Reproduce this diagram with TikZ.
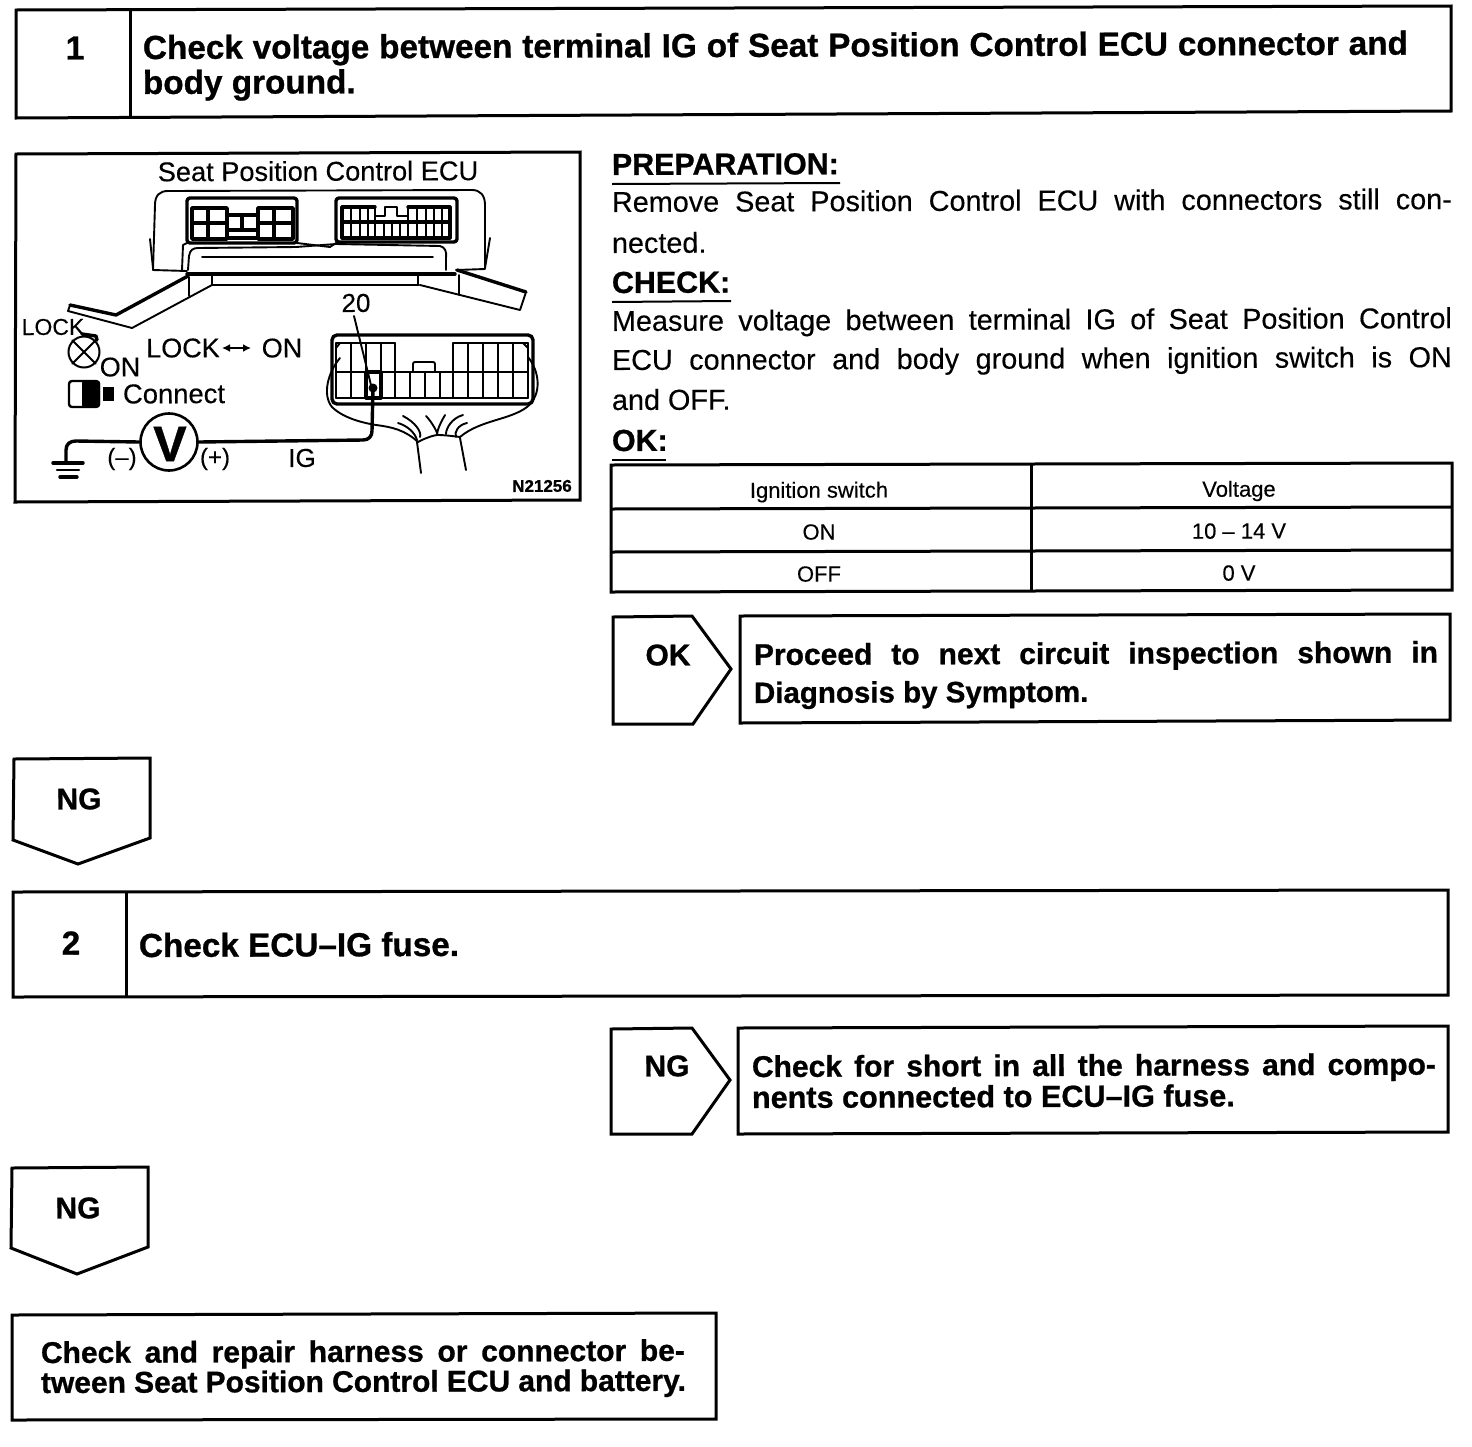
\documentclass[tikz,border=0pt]{standalone}
\usepackage{fontspec}
\usetikzlibrary{arrows.meta}
\setmainfont{Liberation Sans}[FakeBold=0.25,BoldFeatures={FakeBold=0.8}]
\newcommand{\szA}{\fontsize{33.3}{36}\selectfont\bfseries}
\newcommand{\szC}{\fontsize{30}{34}\selectfont\bfseries}
\newcommand{\szD}{\fontsize{22}{26}\selectfont}
\newcommand{\szE}{\fontsize{28.8}{30}\selectfont}
\newcommand{\szH}{\fontsize{30.4}{30}\selectfont\bfseries}
\newcommand{\jl}[2]{\hbox to #1pt{#2}}
\tikzset{
  bx/.style={draw=black,line width=3pt,line join=miter,fill=none},
  lbl/.style={inner sep=0pt,outer sep=0pt,text=black,rotate=0.2,anchor=base west},
  ctr/.style={inner sep=0pt,outer sep=0pt,text=black,rotate=0.2,anchor=center},
  fine/.style={draw=black,line width=1.9pt,line join=round,line cap=round},
  heavy/.style={draw=black,line width=3.4pt,line join=round,line cap=round},
  ulin/.style={draw=black,line width=2pt}
}
\begin{document}
\begin{tikzpicture}[x=1pt,y=-1pt]
\useasboundingbox (0,0) rectangle (1472,1446);
\fill[white] (0,0) rectangle (1472,1446);
% step 1 box
\draw[bx] (16,10)--(1451,6)--(1451,111)--(16,118)--cycle;
\draw[bx] (130,9)--(130,118);
\node[ctr,font=\szA] (n1) at (75,48) {1};
\node[lbl,font=\szA] (t1a) at (143,59) {\jl{1265}{Check voltage between terminal IG of Seat Position Control ECU connector and}};
\node[lbl,font=\szA] (t1b) at (143,94) {body ground.};
% picture box
\draw[bx] (16,154)--(580,152)--(580,500)--(15,502)--cycle;
\node[ctr,font=\fontsize{27.2}{30}\selectfont] (ptitle) at (318,171) {Seat Position Control ECU};
% ECU housing
\draw[fine] (153,270)--(155,205)..controls (155,195) and (160,191) .. (168,191)--(472,190)..controls (480,190) and (485,195) .. (485,205)--(485,269)--(456,270);
\draw[fine] (153,270)--(187,271);
\draw[fine] (150,239)--(153,268);
\draw[fine] (490,238)--(485,268);
% left connector
\draw[heavy,rounded corners=3pt] (187,198) rectangle (297,243);
\draw[fine] (187,243)--(183,245)--(182,270);
\draw[heavy] (192,208)--(227,208)--(227,239)--(192,239)--cycle;
\draw[heavy] (258,208)--(293,208)--(293,239)--(258,239)--cycle;
\draw[heavy] (192,223)--(227,223) (258,223)--(293,223) (208,208)--(208,239) (274,208)--(274,239);
\draw[heavy] (227,215)--(258,215) (227,230)--(242,230) (242,215)--(242,230) (242,230)--(258,230);
\draw[heavy] (227,238)--(258,238);
% right connector
\draw[heavy,rounded corners=3pt] (336,198) rectangle (457,242);
\draw[heavy] (342,207)--(375,207)  (408,207)--(450,207) (342,238)--(450,238) (342,222)--(450,222) (342,207)--(342,238) (450,207)--(450,238);
\foreach \xx in {351,360,368,375,408,417,426,434,442}{\draw[fine,line width=2.4pt] (\xx,207)--(\xx,238);}
\foreach \xx in {384,392,400}{\draw[fine,line width=2.4pt] (\xx,222)--(\xx,238);}
\draw[fine] (375,216)--(385,216)--(385,207)--(397,207)--(397,216)--(408,216);
\draw[fine] (297,243)--(330,247)--(336,243);
% lower inner body
\draw[fine] (188,270)--(189,256)..controls (190,250) and (193,248) .. (198,248)--(296,247)--(336,244)--(440,246)..controls (445,247) and (447,252) .. (446,258)--(446,270);
\draw[fine] (202,257)--(433,257);
\draw[heavy] (187,274)--(455,274);
\draw[fine] (212,285)--(419,285);
\draw[fine] (212,276)--(212,285) (418,276)--(418,285);
% left bracket
\draw[heavy] (188,276)--(116,315)--(70,305);
\draw[fine] (70,305)--(68,311)--(132,328)--(212,285);
\draw[fine] (189,277)--(189,296);
% right bracket
\draw[heavy] (457,270)--(526,292);
\draw[fine] (526,292)--(520,310)--(420,285);
\draw[fine] (459,275)--(459,295);
% lower connector
\node[ctr,font=\fontsize{26}{28}\selectfont] (n20) at (356,303) {20};
\draw[heavy,rounded corners=5pt] (332,335) rectangle (533,404);
\draw[fine] (336,343)--(395,343) (453,343)--(528,343);
\draw[fine] (336,372)--(528,372) (336,398)--(528,398);
\foreach \xx in {336,351,366,381,395,453,468,483,498,513,528}{\draw[fine] (\xx,343)--(\xx,398);}
\foreach \xx in {410,425,440}{\draw[fine] (\xx,372)--(\xx,398);}
\draw[fine,line width=2.4pt] (395,372)--(395,398);
\draw[fine] (336,348)--(340,343) (528,348)--(523,343);
\draw[fine,rounded corners=2pt] (413,372)--(413,362)--(435,362)--(435,372);
\draw[heavy] (366,372)--(366,398) (381,372)--(381,398) (366,372)--(381,372) (366,398)--(381,398);
% harness
\draw[fine] (340,358)..controls (328,372) and (322,395) .. (332,407)..controls (345,420) and (370,424) .. (376,425)..controls (392,427) and (405,430) .. (418,442);
\draw[fine] (528,357)..controls (540,372) and (542,395) .. (527,407)..controls (510,420) and (480,420) .. (460,437);
\draw[fine] (418,442)..controls (425,438) and (435,435) .. (437,435)..controls (445,435) and (452,436) .. (460,437);
\draw[fine] (417,442)--(421,473) (460,438)--(466,470);
\draw[fine] (403,416)..controls (415,422) and (422,432) .. (420,437);
\draw[fine] (398,423)..controls (408,426) and (415,433) .. (417,440);
\draw[fine] (426,416)..controls (432,422) and (437,432) .. (437,433);
\draw[fine] (445,415)..controls (441,422) and (437,430) .. (437,435);
\draw[fine] (463,415)..controls (452,418) and (446,428) .. (446,434);
\draw[fine] (467,423)..controls (458,425) and (454,432) .. (456,437);
% meter and wiring
\node[draw=black,line width=2.6pt,circle,minimum size=57pt,inner sep=0pt] (vm) at (169,442) {};
\node[ctr,font=\fontsize{50}{52}\selectfont\bfseries] (vt) at (170,444) {V};
\coordinate (gnd) at (66,463);
\coordinate (term) at (373,388);
\draw[heavy] (gnd)--(66,450)..controls (66,444) and (70,441) .. (76,441)--(vm.west);
\draw[heavy] (vm.east)--(363,440)..controls (369,440) and (372,436) .. (372,431)--(term);
\fill[black] (term) circle (4.5pt);
\draw[fine] (354,316)--(371,385);
\draw[heavy] (53,463)--(83,463);
\draw[fine,line width=2.2pt] (57,470)--(79,470);
\draw[heavy] (60,477)--(77,477);
\node[ctr,font=\fontsize{24}{26}\selectfont] (minus) at (122,459) {(–)};
\node[ctr,font=\fontsize{24}{26}\selectfont] (plus) at (215,459) {(+)};
\node[ctr,font=\fontsize{26}{28}\selectfont] (ig) at (302,458) {IG};
\node[ctr,font=\fontsize{17}{18}\selectfont\bfseries] (code) at (542,486) {N21256};
% switch
\node[ctr,font=\fontsize{23}{24}\selectfont] (lock1) at (53,327) {LOCK};
\node[draw=black,line width=2pt,circle,minimum size=31pt,inner sep=0pt] (sw) at (84,352) {};
\draw[fine] (sw.north east)--(sw.south west);
\draw[fine] (sw.north west)--(sw.south east);
\draw[heavy] (82,334)--(96,336)--(97,340);
\node[ctr,font=\fontsize{27}{28}\selectfont] (on1) at (120,367) {ON};
\node[ctr,font=\fontsize{27}{28}\selectfont] (lock2) at (183,348) {LOCK};
\node[ctr,font=\fontsize{27}{28}\selectfont] (on2) at (282,348) {ON};
\draw[line width=2.4pt,draw=black,{Latex[length=8pt,width=8pt]}-{Latex[length=8pt,width=8pt]}] (222,348)--(251,348);
% connect icon
\draw[fine,rounded corners=3pt,line width=2.4pt] (69,381) rectangle (99,407);
\fill[black,rounded corners=2pt] (82,381) rectangle (100,407);
\fill[black] (103,387) rectangle (114,401);
\node[ctr,font=\fontsize{27.4}{28}\selectfont,anchor=west] (conn) at (123,394) {Connect};
% right text
\node[lbl,font=\szH] (prep) at (612,175) {PREPARATION:};
\draw[ulin] (612,184)--(840,183);
\node[lbl,font=\szE] (p1) at (612,212) {\jl{840}{Remove Seat Position Control ECU with connectors still con-}};
\node[lbl,font=\szE] (p2) at (612,253) {nected.};
\node[lbl,font=\szH] (chk) at (612,293) {CHECK:};
\draw[ulin] (612,302)--(731,301);
\node[lbl,font=\szE] (c1) at (612,331) {\jl{840}{Measure voltage between terminal IG of Seat Position Control}};
\node[lbl,font=\szE] (c2) at (612,370) {\jl{840}{ECU connector and body ground when ignition switch is ON}};
\node[lbl,font=\szE] (c3) at (612,410) {and OFF.};
\node[lbl,font=\szH] (ok) at (612,451) {OK:};
\draw[ulin] (612,460)--(666,460);
% table
\draw[bx] (611,465)--(1452,463)--(1452,590)--(611,592)--cycle;
\draw[bx] (611,509)--(1452,507);
\draw[bx] (611,552)--(1452,550);
\draw[bx] (1031,464)--(1031,591);
\node[ctr,font=\szD] (h1) at (819,492) {Ignition switch};
\node[ctr,font=\szD] (h2) at (1239,491) {Voltage};
\node[ctr,font=\szD] (r1a) at (819,532) {ON};
\node[ctr,font=\szD] (r1b) at (1239,531) {10 – 14 V};
\node[ctr,font=\szD] (r2a) at (819,574) {OFF};
\node[ctr,font=\szD] (r2b) at (1239,573) {0 V};
% OK arrow
\draw[bx] (613,617)--(692,616)--(731,669)--(693,724)--(613,724)--cycle;
\node[ctr,font=\szC] (oklab) at (668,655) {OK};
\draw[bx] (740,616)--(1450,614)--(1450,720)--(740,723)--cycle;
\node[lbl,font=\szC] (okt1) at (754,665) {\jl{684}{Proceed to next circuit inspection shown in}};
\node[lbl,font=\fontsize{29.5}{34}\selectfont\bfseries] (okt2) at (754,703) {Diagnosis by Symptom.};
% NG down
\draw[bx] (14,759)--(150,758)--(150,838)--(78,864)--(13,840)--cycle;
\node[ctr,font=\szC] (ng1) at (79,799) {NG};
% step 2
\draw[bx] (13,892)--(1448,890)--(1448,995)--(13,997)--cycle;
\draw[bx] (126,892)--(126,997);
\node[ctr,font=\szA] (n2) at (71,943) {2};
\node[lbl,font=\szA] (t2) at (139,957) {Check ECU–IG fuse.};
% NG right
\draw[bx] (611,1029)--(692,1028)--(730,1080)--(692,1134)--(611,1134)--cycle;
\node[ctr,font=\szC] (ng2) at (667,1066) {NG};
\draw[bx] (738,1028)--(1448,1026)--(1448,1132)--(738,1134)--cycle;
\node[lbl,font=\szC] (ngt1) at (752,1077) {\jl{684}{Check for short in all the harness and compo-}};
\node[lbl,font=\fontsize{30.6}{34}\selectfont\bfseries] (ngt2) at (752,1108) {nents connected to ECU–IG fuse.};
% NG down 2
\draw[bx] (12,1168)--(148,1167)--(148,1247)--(77,1274)--(11,1248)--cycle;
\node[ctr,font=\szC] (ng3) at (78,1208) {NG};
% final
\draw[bx] (12,1315)--(716,1313)--(716,1419)--(12,1420)--cycle;
\node[lbl,font=\szC] (f1) at (41,1363) {\jl{644}{Check and repair harness or connector be-}};
\node[lbl,font=\szC] (f2) at (41,1393) {\jl{645}{tween Seat Position Control ECU and battery.}};
\end{tikzpicture}
\end{document}
